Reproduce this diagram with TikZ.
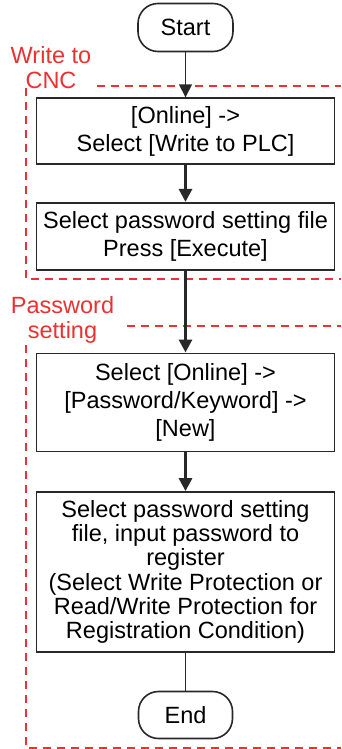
\documentclass[tikz,border=0pt]{standalone}
\usepackage{fontspec}
\setmainfont{Liberation Sans}
\usepackage{tikz}
\usetikzlibrary{positioning,arrows.meta}
\usepackage{xcolor}
\definecolor{frameline}{RGB}{40,40,40}
\definecolor{zonered}{RGB}{235,50,50}

\begin{document}
\begin{tikzpicture}[
            x=1pt, y=1pt,
            node distance=40pt,
            block/.style={rectangle, draw=frameline, line width=1.6pt, minimum width=298pt, align=center, font=\fontsize{23.5}{28}\selectfont},
            terminal/.style={rectangle, rounded corners=20pt, draw=frameline, line width=1.6pt, minimum width=95pt, minimum height=48pt, font=\fontsize{23.5}{28}\selectfont},
            zone/.style={text=zonered, align=center, font=\fontsize{23.5}{25}\selectfont},
            zoneline/.style={draw=zonered, line width=1.8pt, dash pattern=on 8pt off 6pt},
            arrow/.style={-{Triangle[width=13pt,length=13pt]}, line width=3pt, draw=frameline},
            thinarrow/.style={-{Triangle[width=13pt,length=13pt]}, line width=1.5pt, draw=frameline}
        ]
            \useasboundingbox (0,0) rectangle (341,-749);

            \node[terminal] (start) at (185.5,-27.5) {Start};
            \node[block, minimum height=66pt, below=45pt of start] (write) {[Online] ->\\Select [Write to PLC]};
            \node[block, minimum height=67pt, below=37pt of write] (execute) {Select password setting file\\Press [Execute]};
            \node[block, minimum height=98pt, below=82pt of execute] (newpw) {Select [Online] ->\\{}[Password/Keyword] ->\\{}[New]};
            \node[block, minimum height=160pt, below=39pt of newpw, font=\fontsize{23.5}{24.2}\selectfont] (register) {Select password setting\\file, input password to\\register\\(Select Write Protection or\\Read/Write Protection for\\Registration Condition)};
            \node[terminal, minimum width=94pt, minimum height=47pt, below=38pt of register] (stop) {End};

            % zone labels
            \node[zone] (cnclabel) at (51,-68) {Write to\\CNC};
            \node[zone] (pwlabel) at (62.5,-320) {Password\\setting};

            % dashed zones
            \draw[zoneline] (97,-86) -- (341,-86);
            \draw[zoneline] (26,-88) -- (26,-279) -- (341,-279);
            \draw[zoneline] (127,-326) -- (341,-326);
            \draw[zoneline] (26,-345) -- (26,-748) -- (341,-748);

            \draw[thinarrow] (start) -- (write);
            \draw[arrow] (write) -- (execute);
            \draw[arrow] (execute) -- (newpw);
            \draw[arrow] (newpw) -- (register);
            \draw[line width=1.5pt, draw=frameline] (register) -- (stop);
        \end{tikzpicture}
\end{document}
